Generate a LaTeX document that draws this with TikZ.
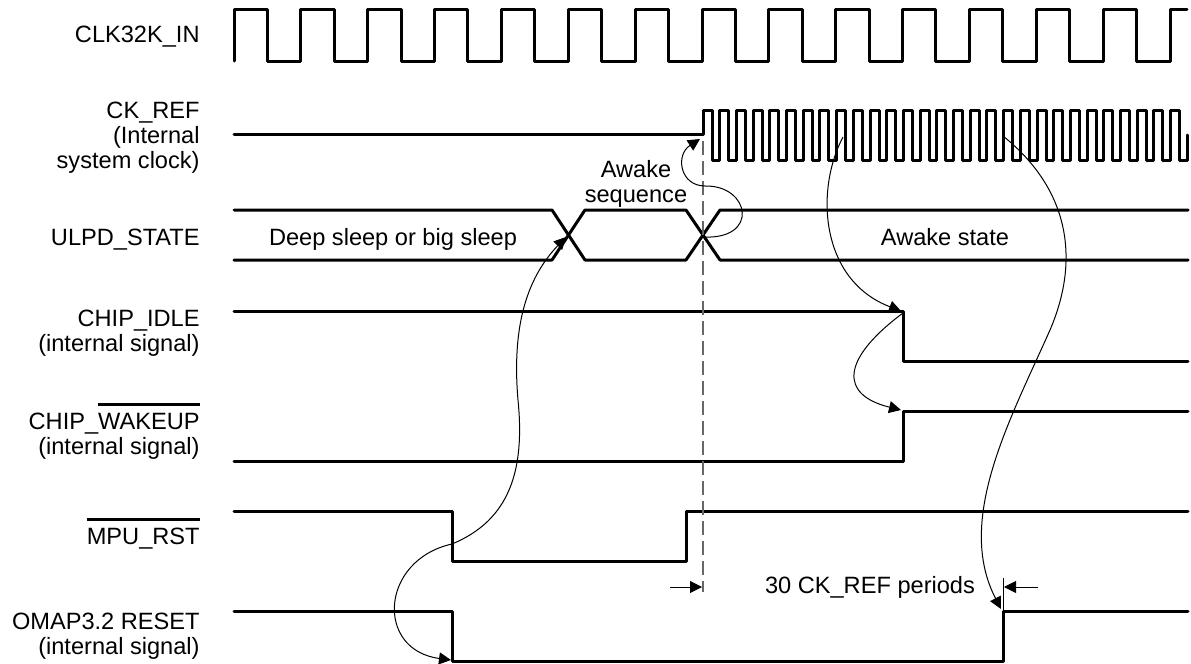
\documentclass[tikz,border=0pt]{standalone}
\usepackage{fontspec}
\setmainfont{Liberation Sans}
\usepackage{tikz}
\usetikzlibrary{arrows.meta}
\tikzstyle{wave} = [line width=1.5pt, line join=round, line cap=round]
\tikzstyle{siglabel} = [anchor=north east, align=right, inner sep=0pt]
\tikzstyle{note} = [inner sep=0pt]
\tikzstyle{cause} = [-{Triangle[length=6pt,width=6pt]}, line width=0.5pt]
\tikzstyle{marker} = [dash pattern=on 7pt off 3pt, line width=0.6pt, black!60]
\newsavebox{\barbox}
\newcommand{\barred}[1]{\sbox{\barbox}{#1}\smash{\rlap{\rule[1.0em]{\wd\barbox}{0.13em}}}\usebox{\barbox}}

\begin{document}
\begin{tikzpicture}[x=0.5pt, y=-0.5pt, font=\fontsize{11.8}{12.3}\selectfont]
		\useasboundingbox (0,0) rectangle (1191,664);
		% signal names
		\node[siglabel] (lclk) at (200,26) {CLK32K\_IN};
		\node[siglabel] (lckref) at (200,102) {CK\_REF\\(Internal\\system clock)};
		\node[siglabel] (lulpd) at (200,229) {ULPD\_STATE};
		\node[siglabel] (lidle) at (200,310) {CHIP\_IDLE\\(internal signal)};
		\node[siglabel] (lwake) at (200,413) {CHIP\_\barred{WAKEUP}\\(internal signal)};
		\node[siglabel] (lmpu) at (200,528) {\barred{MPU\_RST}};
		\node[siglabel] (lomap) at (200,613) {OMAP3.2 RESET\\(internal signal)};
		
		% waveforms
		\draw[wave] (234,61) \foreach \k in {0,...,13} { -- ++(0,-52) -- ++(33.4,0) -- ++(0,52) -- ++(33.457,0) } -- ++(0,-52) -- ++(17,0);
		\draw[wave] (234,134) -- (703,134) -- (703,110) \foreach \k in {0,...,27} { -- ++(9,0) -- ++(0,50) -- ++(7.7,0) -- ++(0,-50) } -- ++(9,0) -- ++(0,50) -- ++(7.7,0) -- ++(0,-25);
		\draw[wave] (234,210) -- (552,210) -- (585,260) -- (686,260) -- (720,210) -- (1188,210);
		\draw[wave] (234,260) -- (552,260) -- (585,210) -- (686,210) -- (720,260) -- (1188,260);
		\draw[wave] (234,311) -- (903,311) -- (903,361) -- (1188,361);
		\draw[wave] (234,461) -- (903,461) -- (903,411) -- (1188,411);
		\draw[wave] (234,511) -- (452,511) -- (452,561) -- (686,561) -- (686,511) -- (1188,511);
		\draw[wave] (234,611) -- (452,611) -- (452,661) -- (1003,661) -- (1003,611) -- (1188,611);
		
		\node[note, anchor=base] (sleep) at (393,245) {Deep sleep or big sleep};
		\node[note, anchor=base] (awake) at (945,245) {Awake state};
		\node[note, anchor=north, align=center] (awseq) at (636,160) {Awake\\sequence};
		\node[note, anchor=base] (periods) at (870,593) {30 CK\_REF periods};
		
		\coordinate (mpufall) at (452,544);
		\coordinate (ulpdx1) at (566,237);
		\coordinate (ulpdx2) at (703,237);
		\coordinate (ckrise) at (700,139);
		\coordinate (omapfall) at (451,660);
		\coordinate (ckpulseA) at (843,137);
		\coordinate (idlefall) at (901,311);
		\coordinate (wakerise) at (901,410);
		\coordinate (ckpulseB) at (1003,136);
		\coordinate (omaprise) at (1001,609);
		\coordinate (dtop) at (703,141);
		\coordinate (dbot) at (703,592);
		\coordinate (ldim) at (670,587);
		\coordinate (rdim) at (1038,587);
		\coordinate (tick) at (1003,578);
		
		% awake sequence markers
		\draw[marker] (dtop) -- (dbot);
		\draw[line width=0.5pt] (tick) -- (1003,611);
		\draw[cause] (ldim) -- (702,587);
		\draw[cause] (rdim) -- (1004,587);
		
		% cause and effect
		\draw[cause] (mpufall) .. controls (510,520) and (525,470) .. (518,400) .. controls (512,330) and (525,280) .. (ulpdx1);
		\draw[cause] (mpufall) .. controls (380,560) and (375,650) .. (omapfall);
		\draw[cause] (ulpdx2) .. controls (760,240) and (750,185) .. (705,186) .. controls (680,186) and (675,155) .. (ckrise);
		\draw[cause] (ckpulseA) .. controls (815,190) and (820,280) .. (idlefall);
		\draw[cause] (903,313) .. controls (840,360) and (840,395) .. (wakerise);
		\draw[cause] (ckpulseB) .. controls (1070,190) and (1080,260) .. (1050,330) .. controls (1010,420) and (955,520) .. (omaprise);
\end{tikzpicture}
\end{document}
